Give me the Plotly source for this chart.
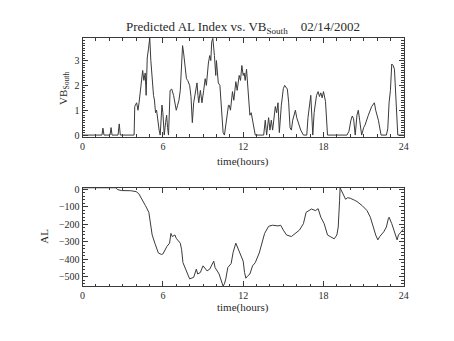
import plotly.graph_objects as go

# ---- data ----
vb_t = [0, 1.45, 1.52, 1.6, 2.05, 2.13, 2.2, 2.65, 2.74, 2.82, 3.85, 3.9, 4.04, 4.14, 4.22, 4.29, 4.39, 4.49,
        4.58, 4.68, 4.75, 4.83, 4.93, 5.02, 5.1, 5.19, 5.3, 5.37, 5.45, 5.53, 5.62, 5.72, 5.8, 5.93, 6.0, 6.1,
        6.2, 6.28, 6.35, 6.42, 6.54, 6.66, 6.8, 6.9, 7.0, 7.1, 7.2, 7.3, 7.4, 7.47, 7.55, 7.65, 7.76, 7.85,
        8.0, 8.1, 8.2, 8.3, 8.43, 8.55, 8.62, 8.68, 8.8, 8.92, 9.05, 9.16, 9.25, 9.32, 9.4, 9.5, 9.58, 9.65,
        9.73, 9.85, 9.95, 10.0, 10.08, 10.14, 10.26, 10.38, 10.5, 10.6, 10.7, 10.8, 10.9, 10.96, 11.05, 11.2,
        11.3, 11.45, 11.55, 11.7, 11.8, 11.9, 12.0, 12.07, 12.15, 12.25, 12.4, 12.5, 12.6, 12.7, 12.8, 12.9,
        13.53, 13.65, 13.75, 13.9, 14.0, 14.1, 14.2, 14.3, 14.4, 14.5, 14.6, 14.7, 14.85, 15.0, 15.1, 15.3,
        15.4, 15.5, 15.6, 15.7, 15.8, 15.9, 16.0, 16.1, 16.3, 16.5, 16.75, 16.84, 16.95, 17.05, 17.2, 17.3,
        17.48, 17.6, 17.7, 17.8, 17.9, 18.0, 18.15, 18.3, 19.75, 19.9, 20.05, 20.15, 20.25, 20.37, 20.5, 20.6,
        20.7, 20.85, 21.0, 21.1, 21.35, 21.6, 21.8, 21.9, 22.1, 22.3, 22.7, 22.8, 22.9, 23.0, 23.1, 23.2,
        23.3, 23.45, 23.55, 24]
vb_v = [0, 0, 0.28, 0, 0, 0.3, 0, 0, 0.45, 0, 0, 1.16, 1.3, 1.0, 1.3, 1.6, 2.1, 2.6,
        2.2, 2.5, 1.6, 3.1, 3.5, 3.9, 3.0, 2.13, 1.6, 1.41, 0.9, 1.0, 0.5, 0.2, 0, 1.21, 0.9, 0,
        0.5, 0.8, 0.3, 0, 1.8, 1.85, 1.6, 1.3, 1.0, 1.2, 1.4, 1.8, 2.8, 3.6, 3.3, 2.8, 2.27, 2.2,
        2.0, 1.55, 0.5, 1.3, 1.75, 2.1, 1.6, 1.3, 1.8, 1.3, 1.8, 2.27, 2.0, 2.6, 2.9, 3.2, 3.0, 3.75,
        3.9, 3.2, 2.4, 3.0, 2.5, 2.1, 2.0, 1.0, 0.1, 0, 0.4, 0.9, 1.2, 1.2, 1.0, 1.75,
        1.4, 2.15, 1.8, 2.4, 2.2, 2.8, 2.4, 2.5, 2.2, 2.65, 1.5, 0.8, 0.9, 0.6, 0.4, 0,
        0, 0.6, 0, 0.7, 0.2, 0.6, 0.2, 0.8, 1.15, 0.9, 1.3, 0.1, 1.2, 1.87, 2.0, 1.85,
        1.3, 0.3, 0.2, 0.6, 0.8, 1.0, 0.7, 0.5, 0.2, 0, 0, 0.7, 1.2, 1.6, 0, 0.9,
        1.6, 1.75, 1.55, 1.7, 1.5, 1.75, 1.35, 0, 0, 0.15, 0.6, 0.77, 0.65, 0, 0.8, 1.0,
        0.6, 0, 0.3, 0.4, 0.8, 1.15, 1.3, 1.0, 0.6, 0, 0, 0.25, 1.3, 1.8, 2.86, 2.8,
        2.65, 1.3, 0, 0]

al_t = [0, 2.5, 2.6, 2.9, 3.6, 4.0, 4.2, 4.45, 4.7, 4.95, 5.1, 5.2, 5.4, 5.66, 5.9, 6.0, 6.3, 6.5, 6.6,
        6.7, 6.9, 7.0, 7.3, 7.4, 7.5, 7.8, 8.0, 8.3, 8.4, 8.5, 8.6, 8.8, 9.0, 9.3, 9.5, 9.7, 9.8, 9.9,
        10.2, 10.5, 10.6, 10.7, 10.85, 11.1, 11.25, 11.45, 11.6, 11.8, 12.0, 12.1, 12.2, 12.35, 12.5, 12.7,
        12.9, 13.2, 13.4, 13.6, 13.9, 14.2, 14.6, 14.8, 15.0, 15.24, 15.6, 15.9, 16.2, 16.5, 16.7, 17.1,
        17.4, 17.6, 17.8, 18.05, 18.3, 18.5, 18.8, 19.0, 19.1, 19.2, 19.24, 19.3, 19.5, 19.65, 19.8, 20.0,
        20.3, 20.5, 20.9, 21.25, 21.5, 21.7, 21.9, 22.06, 22.2, 22.5, 22.7, 22.84, 22.9, 23.1, 23.33, 23.5,
        23.6, 23.8, 24.0]
al_v = [10, 10, 0, -6, -7, -12, -24, -56, -93, -131, -196, -261, -308, -364, -373, -370, -327, -308, -252,
        -270, -261, -280, -308, -345, -420, -476, -513, -504, -476, -457, -485, -476, -438, -467, -457, -420, -411, -448,
        -485, -555, -541, -513, -448, -425, -360, -308, -336, -373, -411, -476, -509, -495, -485, -438,
        -420, -364, -308, -252, -211, -205, -209, -205, -233, -261, -270, -252, -233, -196, -131, -112,
        -121, -110, -159, -196, -261, -270, -283, -261, -215, -65, 9, 0, -37, -56, -47, -50,
        -61, -69, -93, -121, -159, -215, -261, -289, -270, -243, -215, -168, -159, -196, -252, -289,
        -261, -243, -225]

x_ticks = [0, 6, 12, 18, 24]
vb_ticks = [0, 1, 2, 3]
al_ticks = [0, -100, -200, -300, -400, -500]

FONT = "Liberation Serif"
LINE = "#3a3a3a"
TXT = "#2a2a2a"

fig = go.Figure()
fig.add_trace(go.Scatter(x=vb_t, y=vb_v, mode="lines", line=dict(color=LINE, width=1),
                         xaxis="x", yaxis="y", showlegend=False))
fig.add_trace(go.Scatter(x=al_t, y=al_v, mode="lines", line=dict(color=LINE, width=1),
                         xaxis="x2", yaxis="y2", showlegend=False))

W, H = 454, 341
xd = [81 / W, 408 / W]

def xax(anchor):
    return dict(domain=xd, range=[0, 24], tickvals=x_ticks, ticks="inside", ticklen=5,
                tickcolor=LINE, showline=True, linecolor=LINE, linewidth=1, mirror="ticks",
                showgrid=False, zeroline=False, anchor=anchor,
                tickfont=dict(family=FONT, size=10, color=TXT),
                minor=dict(dtick=1, ticks="inside", ticklen=2.5, tickcolor=LINE))

def yax(dom, rng, tv, mdt, anchor):
    return dict(domain=dom, range=rng, tickvals=tv, ticks="inside", ticklen=5,
                tickcolor=LINE, showline=True, linecolor=LINE, linewidth=1, mirror="ticks",
                showgrid=False, zeroline=False, anchor=anchor,
                tickfont=dict(family=FONT, size=10, color=TXT),
                minor=dict(dtick=mdt, ticks="inside", ticklen=2.5, tickcolor=LINE))

fig.update_layout(
    width=W, height=H, margin=dict(l=0, r=0, t=0, b=0),
    paper_bgcolor="white", plot_bgcolor="white",
    xaxis=xax("y"),
    yaxis=yax([(H - 136) / H, (H - 35) / H], [-0.07, 3.9], vb_ticks, 0.1, "x"),
    xaxis2=xax("y2"),
    yaxis2=yax([(H - 289) / H, (H - 188) / H], [-555, 11], al_ticks, 20, "x2"),
    font=dict(family=FONT, color=TXT),
    annotations=[
        dict(text="Predicted AL Index vs. VB<sub>South</sub>    02/14/2002", x=244 / W, y=1 - 24 / H,
             xref="paper", yref="paper", showarrow=False, font=dict(family=FONT, size=13, color=TXT),
             xanchor="center", yanchor="middle"),
        dict(text="time(hours)", x=244 / W, y=1 - 161 / H, xref="paper", yref="paper", showarrow=False,
             font=dict(family=FONT, size=11, color=TXT), xanchor="center", yanchor="middle"),
        dict(text="time(hours)", x=244 / W, y=1 - 311 / H, xref="paper", yref="paper", showarrow=False,
             font=dict(family=FONT, size=11, color=TXT), xanchor="center", yanchor="middle"),
        dict(text="VB<sub>South</sub>", x=62 / W, y=1 - 86 / H, xref="paper", yref="paper", showarrow=False,
             textangle=-90, font=dict(family=FONT, size=11, color=TXT), xanchor="center", yanchor="middle"),
        dict(text="AL", x=42 / W, y=1 - 238 / H, xref="paper", yref="paper", showarrow=False,
             textangle=-90, font=dict(family=FONT, size=11, color=TXT), xanchor="center", yanchor="middle"),
    ],
)

fig.write_html("out.html")
